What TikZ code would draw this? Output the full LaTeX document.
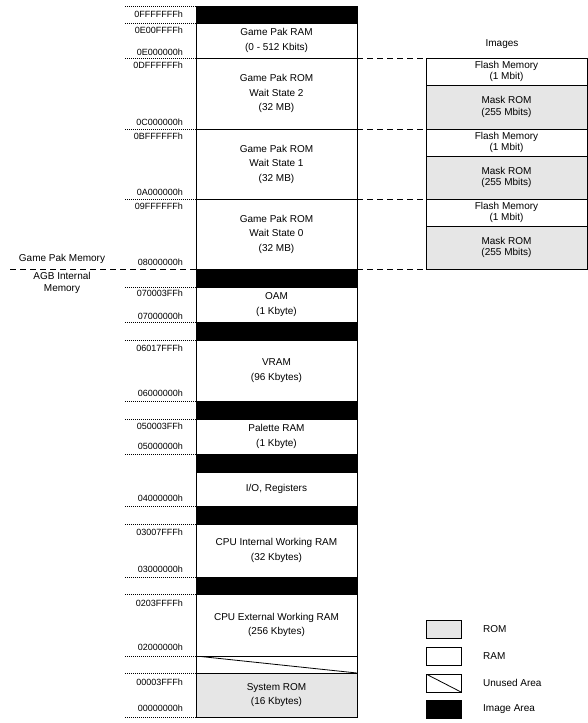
\documentclass[tikz,border=0pt]{standalone}
\usepackage{fontspec}
\setmainfont{Liberation Sans}
\setsansfont{Liberation Sans}
\usetikzlibrary{
  positioning,
  calc}
\definecolor{romcolor}{RGB}{230,230,230}
\definecolor{linecolor}{RGB}{0,0,0}
\tikzset{
  %% block : one area of the memory map
  block/.style={
    rectangle,
    draw=linecolor,
    line width=0.8pt,
    minimum width=161pt,
    inner sep=0pt,
    outer sep=0pt,
    align=center,
    font=\fontsize{10}{14.5}\selectfont
  },
  %% ramblock : a RAM area
  ramblock/.style={block, fill=white},
  %% romblock : a ROM area
  romblock/.style={block, fill=romcolor},
  %% imgblock : an image area
  imgblock/.style={block, fill=black},
  %% unusedblock : an unused area (crossed by a diagonal)
  unusedblock/.style={
    block,
    fill=white,
    path picture={
      \draw [line width=0.8pt] (path picture bounding box.north west) --
        (path picture bounding box.south east);}
  },
  %% flash, mask : the cartridge images
  flash/.style={block, fill=white, minimum height=27pt,
    font=\fontsize{10}{11.7}\selectfont},
  mask/.style={block, fill=romcolor,
    font=\fontsize{10}{11.7}\selectfont},
  %% addr : an address label
  addr/.style={inner sep=0pt, font=\fontsize{9}{9}\selectfont},
  %% side : labels left and above the map
  side/.style={inner sep=0pt, align=center,
    font=\fontsize{10}{12}\selectfont},
  %% key : a legend box
  key/.style={
    rectangle,
    draw=linecolor,
    line width=0.8pt,
    minimum width=35pt,
    minimum height=18pt,
    inner sep=0pt,
    outer sep=0pt
  },
  %% guide : dotted line to an address
  guide/.style={line width=0.8pt, dash pattern=on 1pt off 1pt},
  %% divider : dashed line between the memory groups
  divider/.style={line width=0.8pt, dash pattern=on 6pt off 4pt}
}

\begin{document}
\begin{tikzpicture}
  [x=1pt,
  y=-1pt]
  \sffamily
  \useasboundingbox (0,0) rectangle (588,723);

  %% Memory map column
  \node (topimg) [imgblock, minimum height=17pt, anchor=north] at (276.5,6){};
  \node (pakram) [ramblock, minimum height=35pt, below=0pt of topimg]{%
    Game Pak RAM\\(0 - 512 Kbits)};
  \node (wstwo) [ramblock, minimum height=71pt, below=0pt of pakram]{%
    Game Pak ROM\\Wait State 2\\(32 MB)};
  \node (wsone) [ramblock, minimum height=70pt, below=0pt of wstwo]{%
    Game Pak ROM\\Wait State 1\\(32 MB)};
  \node (wszero) [ramblock, minimum height=70pt, below=0pt of wsone]{%
    Game Pak ROM\\Wait State 0\\(32 MB)};
  \node (oamimg) [imgblock, minimum height=18pt, below=0pt of wszero]{};
  \node (oam) [ramblock, minimum height=35pt, below=0pt of oamimg]{%
    OAM\\(1 Kbyte)};
  \node (vramimg) [imgblock, minimum height=18pt, below=0pt of oam]{};
  \node (vram) [ramblock, minimum height=61pt, below=0pt of vramimg]{%
    VRAM\\(96 Kbytes)};
  \node (palimg) [imgblock, minimum height=18pt, below=0pt of vram]{};
  \node (palram) [ramblock, minimum height=35pt, below=0pt of palimg]{%
    Palette RAM\\(1 Kbyte)};
  \node (ioimg) [imgblock, minimum height=18pt, below=0pt of palram]{};
  \node (ioreg) [ramblock, minimum height=34pt, below=0pt of ioimg]{%
    I/O, Registers};
  \node (iwimg) [imgblock, minimum height=18pt, below=0pt of ioreg]{};
  \node (iwram) [ramblock, minimum height=53pt, below=0pt of iwimg]{%
    CPU Internal Working RAM\\(32 Kbytes)};
  \node (ewimg) [imgblock, minimum height=17pt, below=0pt of iwram]{};
  \node (ewram) [ramblock, minimum height=62pt, below=0pt of ewimg]{%
    CPU External Working RAM\\(256 Kbytes)};
  \node (unused) [unusedblock, minimum height=17pt, below=0pt of ewram]{};
  \node (sysrom) [romblock, minimum height=44pt, below=0pt of unused]{%
    System ROM\\(16 Kbytes)};

  %% Addresses
  \node (topimghi) [addr, left=13pt of topimg.north west, yshift=-8pt]{0FFFFFFFh};
  \node (pakramhi) [addr, left=13pt of pakram.north west, yshift=-7pt]{0E00FFFFh};
  \node (pakramlo) [addr, left=13pt of pakram.south west, yshift=6pt]{0E000000h};
  \node (wstwohi) [addr, left=13pt of wstwo.north west, yshift=-7pt]{0DFFFFFFh};
  \node (wstwolo) [addr, left=13pt of wstwo.south west, yshift=7pt]{0C000000h};
  \node (wsonehi) [addr, left=13pt of wsone.north west, yshift=-7pt]{0BFFFFFFh};
  \node (wsonelo) [addr, left=13pt of wsone.south west, yshift=7pt]{0A000000h};
  \node (wszerohi) [addr, left=13pt of wszero.north west, yshift=-7pt]{09FFFFFFh};
  \node (wszerolo) [addr, left=13pt of wszero.south west, yshift=7pt]{08000000h};
  \node (oamhi) [addr, left=13pt of oam.north west, yshift=-6pt]{070003FFh};
  \node (oamlo) [addr, left=13pt of oam.south west, yshift=6pt]{07000000h};
  \node (vramhi) [addr, left=13pt of vram.north west, yshift=-8pt]{06017FFFh};
  \node (vramlo) [addr, left=13pt of vram.south west, yshift=8pt]{06000000h};
  \node (palramhi) [addr, left=13pt of palram.north west, yshift=-7pt]{050003FFh};
  \node (palramlo) [addr, left=13pt of palram.south west, yshift=8pt]{05000000h};
  \node (ioreglo) [addr, left=13pt of ioreg.south west, yshift=8pt]{04000000h};
  \node (iwramhi) [addr, left=13pt of iwram.north west, yshift=-8pt]{03007FFFh};
  \node (iwramlo) [addr, left=13pt of iwram.south west, yshift=8pt]{03000000h};
  \node (ewramhi) [addr, left=13pt of ewram.north west, yshift=-9pt]{0203FFFFh};
  \node (ewramlo) [addr, left=13pt of ewram.south west, yshift=9pt]{02000000h};
  \node (sysromhi) [addr, left=13pt of sysrom.north west, yshift=-9pt]{00003FFFh};
  \node (sysromlo) [addr, left=13pt of sysrom.south west, yshift=9pt]{00000000h};

  %% Dotted guides to the addresses
  \coordinate (gl) at (125,0);
  \draw [guide] (topimg.north west) -- (topimg.north west -| gl);
  \draw [guide] (pakram.north west) -- (pakram.north west -| gl);
  \draw [guide] (pakram.south west) -- (pakram.south west -| gl);
  \draw [guide] (wstwo.south west) -- (wstwo.south west -| gl);
  \draw [guide] (wsone.south west) -- (wsone.south west -| gl);
  \draw [guide] (oam.north west) -- (oam.north west -| gl);
  \draw [guide] (oam.south west) -- (oam.south west -| gl);
  \draw [guide] (vram.north west) -- (vram.north west -| gl);
  \draw [guide] (vram.south west) -- (vram.south west -| gl);
  \draw [guide] (palram.north west) -- (palram.north west -| gl);
  \draw [guide] (palram.south west) -- (palram.south west -| gl);
  \draw [guide] (ioreg.south west) -- (ioreg.south west -| gl);
  \draw [guide] (iwram.north west) -- (iwram.north west -| gl);
  \draw [guide] (iwram.south west) -- (iwram.south west -| gl);
  \draw [guide] (ewram.north west) -- (ewram.north west -| gl);
  \draw [guide] (ewram.south west) -- (ewram.south west -| gl);
  \draw [guide] (sysrom.north west) -- (sysrom.north west -| gl);
  \draw [guide] (sysrom.south west) -- (sysrom.south west -| gl);

  %% Game Pak / AGB internal memory
  \coordinate (dl) at (10,0);
  \draw [divider] (wszero.south west -| dl) -- (wszero.south west);
  \node (gpmem) [side] at (62,259){Game Pak Memory};
  \node (agbmem) [side] at (62,283){AGB Internal\\Memory};

  %% Images of the cartridge
  \node (flashtwo) [flash, anchor=north west] at ($(wstwo.north east)+(69,0)$){%
    Flash Memory\\(1 Mbit)};
  \node (masktwo) [mask, minimum height=44pt, below=0pt of flashtwo]{%
    Mask ROM\\(255 Mbits)};
  \node (flashone) [flash, anchor=north west] at ($(wsone.north east)+(69,0)$){%
    Flash Memory\\(1 Mbit)};
  \node (maskone) [mask, minimum height=43pt, below=0pt of flashone]{%
    Mask ROM\\(255 Mbits)};
  \node (flashzero) [flash, anchor=north west] at ($(wszero.north east)+(69,0)$){%
    Flash Memory\\(1 Mbit)};
  \node (maskzero) [mask, minimum height=43pt, below=0pt of flashzero]{%
    Mask ROM\\(255 Mbits)};
  \node (images) [side, above=9pt of flashtwo, xshift=-4.5pt]{Images};

  \draw [divider] (wstwo.north east) -- (flashtwo.north west);
  \draw [divider] (wsone.north east) -- (flashone.north west);
  \draw [divider] (wszero.north east) -- (flashzero.north west);
  \draw [divider] (wszero.south east) -- (maskzero.south west);

  %% Legend
  \node (romkey) [key, fill=romcolor, anchor=north west] at (426,620){};
  \node (ramkey) [key, fill=white, below=9pt of romkey]{};
  \node (unusedkey) [key, unusedblock, minimum width=35pt, minimum height=18pt,
    below=9pt of ramkey]{};
  \node (imgkey) [key, fill=black, below=8pt of unusedkey]{};
  \node (romlabel) [side, right=22pt of romkey]{ROM};
  \node (ramlabel) [side, right=22pt of ramkey]{RAM};
  \node (unusedlabel) [side, right=22pt of unusedkey]{Unused Area};
  \node (imglabel) [side, right=22pt of imgkey]{Image Area};

\end{tikzpicture}
\end{document}
